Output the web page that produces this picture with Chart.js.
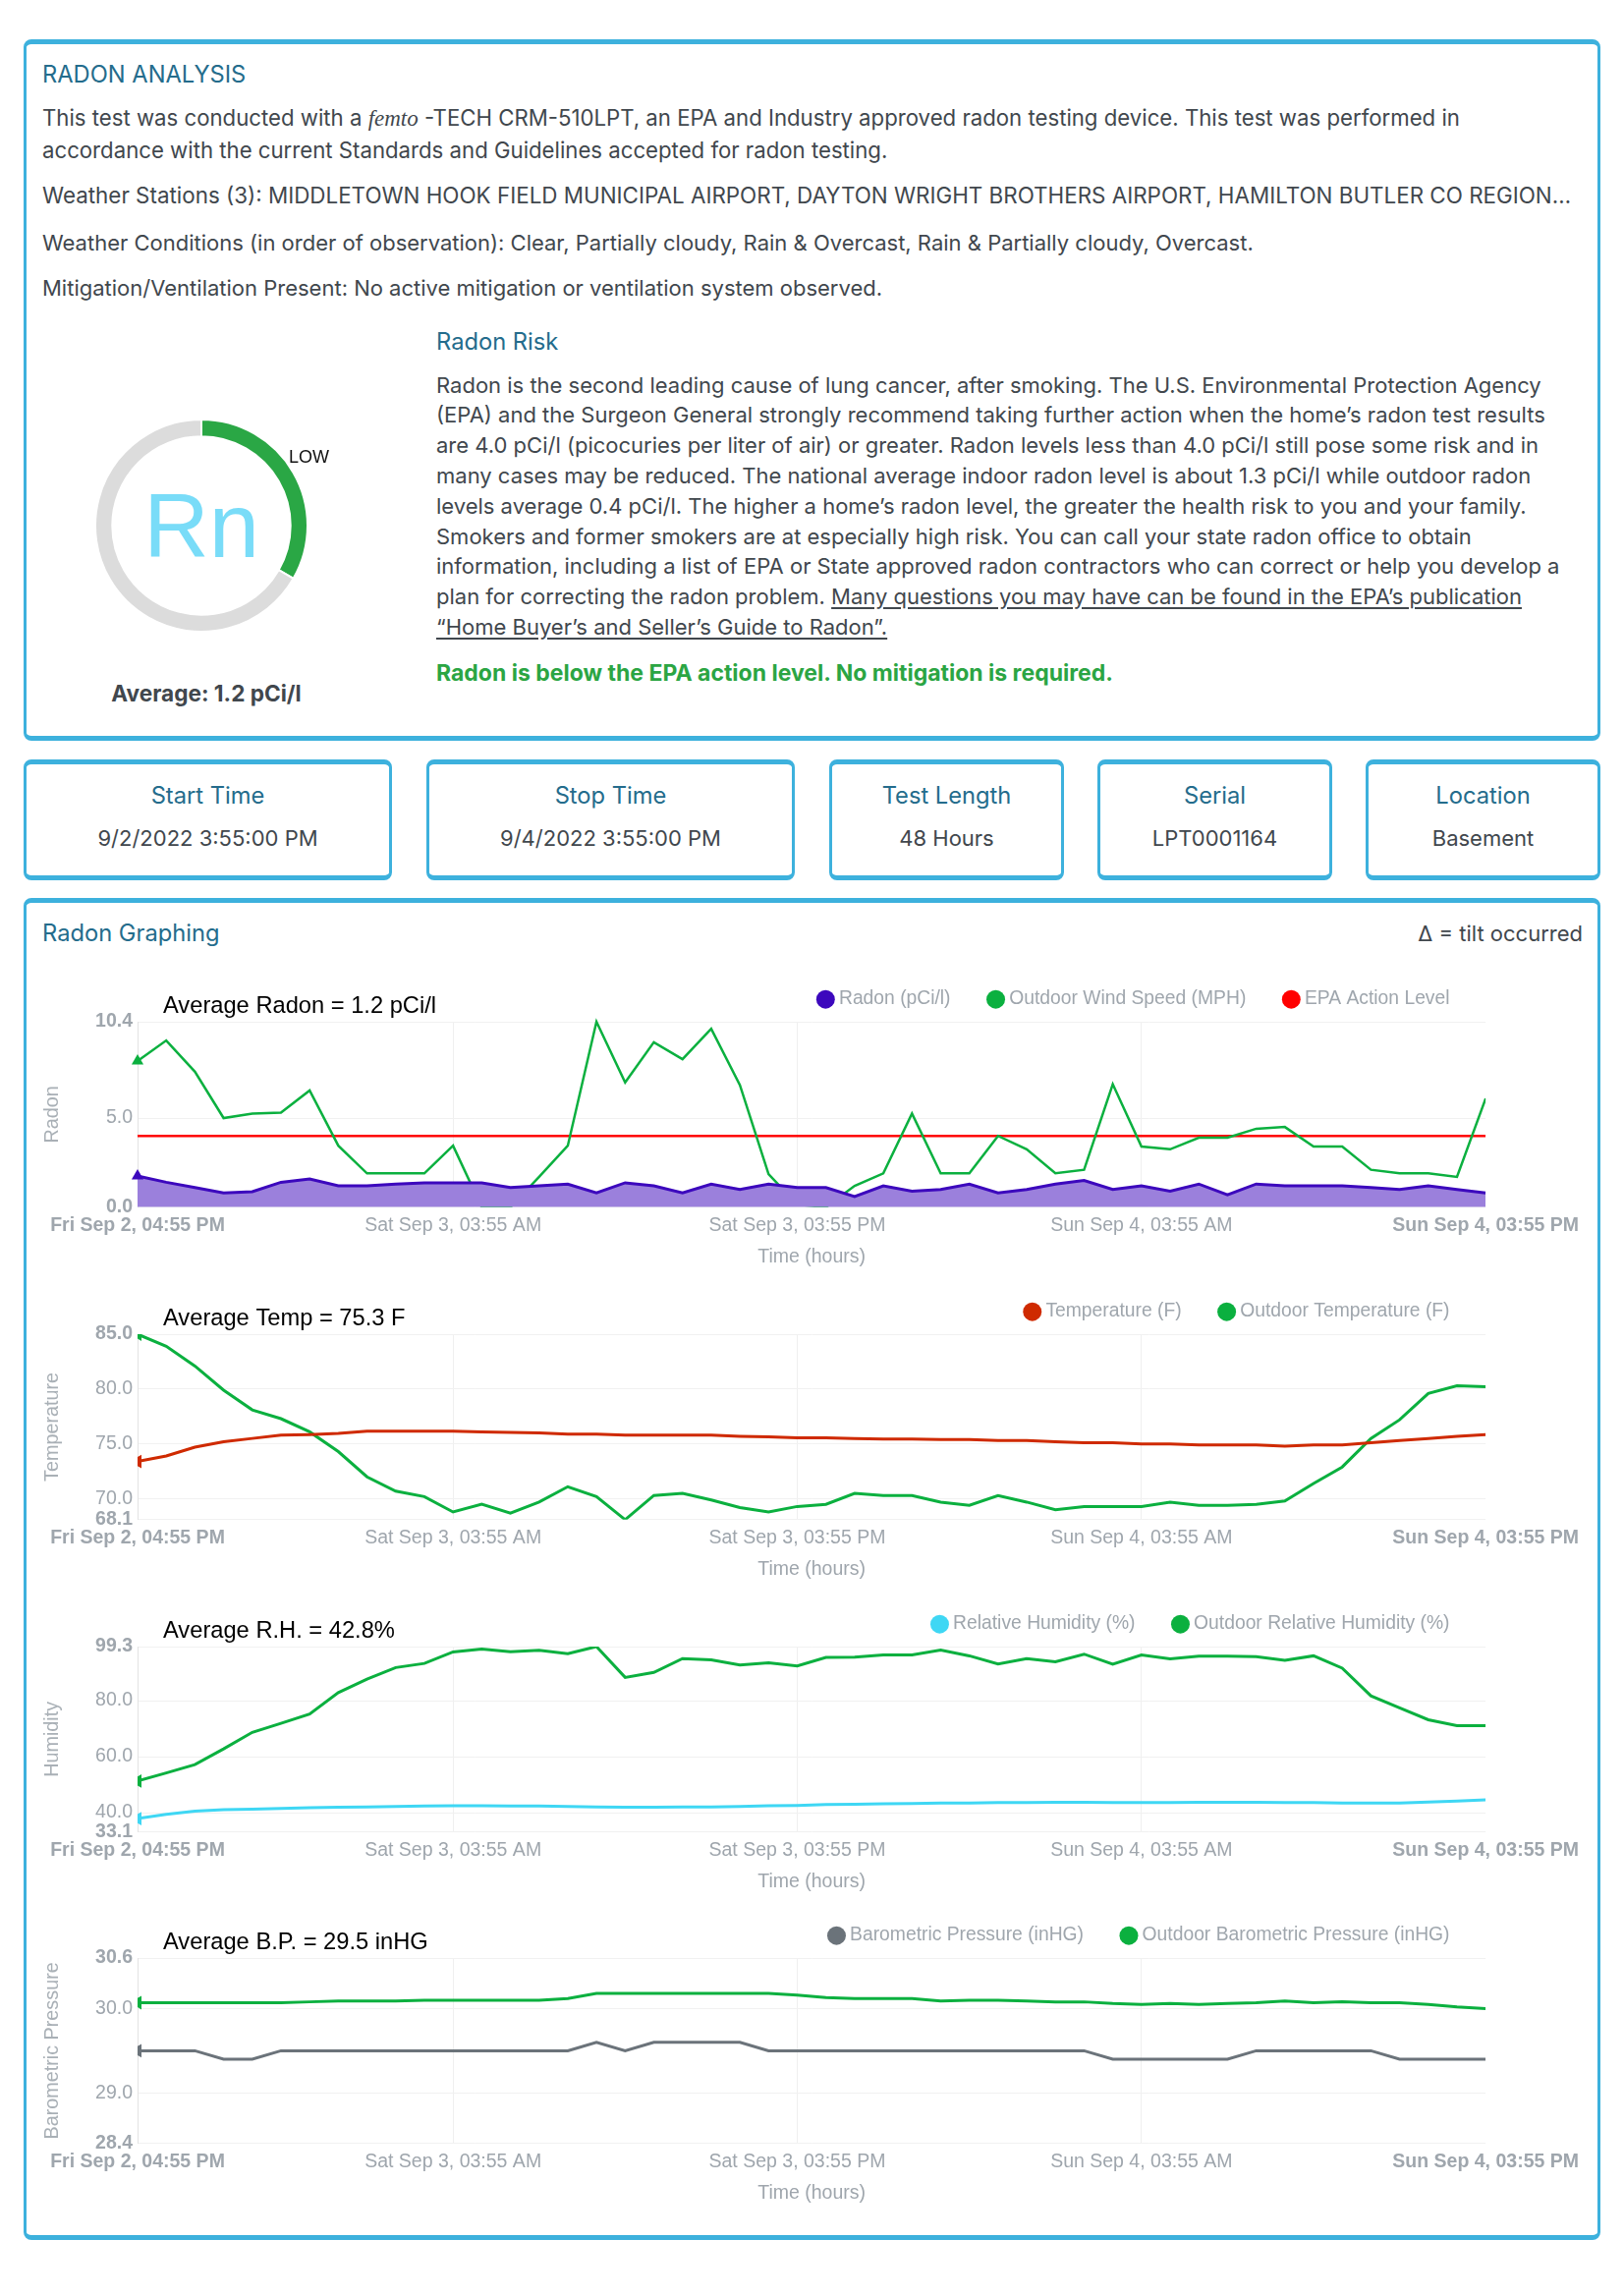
<!DOCTYPE html>
<html><head><meta charset="utf-8">
<script src="https://cdn.jsdelivr.net/npm/chart.js@4.4.1/dist/chart.umd.min.js"></script>
<style>
html,body{margin:0;padding:0;background:#fff;}
body{width:1653px;height:2336px;position:relative;font-family:Inter,'Open Sans',sans-serif;color:#41474d;overflow:hidden;}
.box{position:absolute;box-sizing:border-box;border:3px solid #3db1dd;border-top-width:5px;border-bottom-width:5px;border-radius:8px;}
.t{position:absolute;white-space:nowrap;font-size:22px;line-height:30px;}
.h{color:#246c8c;font-size:23.7px;}
.c{text-align:center;}
.cw{position:absolute;}
u{text-decoration:underline;text-underline-offset:3px;}
</style></head>
<body>
<!-- Box 1 -->
<div class="box" style="left:24px;top:40px;width:1605px;height:714px;"></div>
<div class="t h" style="left:43px;top:61px;">RADON ANALYSIS</div>
<div class="t" style="left:43px;top:105px;font-size:22.2px;">This test was conducted with a <i style="font-family:'Liberation Serif',serif;font-size:23px;">femto</i> -TECH CRM-510LPT, an EPA and Industry approved radon testing device. This test was performed in</div>
<div class="t" style="left:43px;top:138px;font-size:22.2px;">accordance with the current Standards and Guidelines accepted for radon testing.</div>
<div class="t" style="left:43px;top:184px;width:1563px;overflow:hidden;text-overflow:ellipsis;font-size:22.4px;">Weather Stations (3): MIDDLETOWN HOOK FIELD MUNICIPAL AIRPORT, DAYTON WRIGHT BROTHERS AIRPORT, HAMILTON BUTLER CO REGIONAL AIRPORT</div>
<div class="t" style="left:43px;top:232px;">Weather Conditions (in order of observation): Clear, Partially cloudy, Rain &amp; Overcast, Rain &amp; Partially cloudy, Overcast.</div>
<div class="t" style="left:43px;top:278px;">Mitigation/Ventilation Present: No active mitigation or ventilation system observed.</div>

<div class="cw" style="left:96px;top:426px;width:218px;height:218px;"><canvas id="gauge"></canvas></div>
<div class="t" style="left:85px;top:415px;width:240px;height:240px;line-height:240px;text-align:center;font-family:'Liberation Sans',Arial,sans-serif;font-size:92px;color:#79dcf8;">Rn</div>
<div class="t" style="left:294px;top:450px;font-family:'Liberation Sans',Arial,sans-serif;font-size:18px;color:#111;">LOW</div>
<div class="t c" style="left:60px;top:691px;width:300px;font-weight:700;font-size:22.6px;color:#41474d;">Average: 1.2 pCi/l</div>

<div class="t h" style="left:444px;top:333px;">Radon Risk</div>
<div class="t" style="left:444px;top:376.6px;line-height:30.8px;font-size:22px;">Radon is the second leading cause of lung cancer, after smoking. The U.S. Environmental Protection Agency<br>(EPA) and the Surgeon General strongly recommend taking further action when the home’s radon test results<br>are 4.0 pCi/l (picocuries per liter of air) or greater. Radon levels less than 4.0 pCi/l still pose some risk and in<br>many cases may be reduced. The national average indoor radon level is about 1.3 pCi/l while outdoor radon<br>levels average 0.4 pCi/l. The higher a home’s radon level, the greater the health risk to you and your family.<br>Smokers and former smokers are at especially high risk. You can call your state radon office to obtain<br>information, including a list of EPA or State approved radon contractors who can correct or help you develop a<br>plan for correcting the radon problem. <u>Many questions you may have can be found in the EPA’s publication</u><br><u>“Home Buyer’s and Seller’s Guide to Radon”.</u></div>
<div class="t" style="left:444px;top:670px;font-weight:700;font-size:23px;color:#2ba543;">Radon is below the EPA action level. No mitigation is required.</div>

<!-- Info boxes -->
<div class="box" style="left:24px;top:773px;width:375px;height:123px;"></div>
<div class="t h c" style="left:24px;top:795px;width:375px;">Start Time</div>
<div class="t c" style="left:24px;top:838px;width:375px;">9/2/2022 3:55:00 PM</div>
<div class="box" style="left:434px;top:773px;width:375px;height:123px;"></div>
<div class="t h c" style="left:434px;top:795px;width:375px;">Stop Time</div>
<div class="t c" style="left:434px;top:838px;width:375px;">9/4/2022 3:55:00 PM</div>
<div class="box" style="left:844px;top:773px;width:239px;height:123px;"></div>
<div class="t h c" style="left:844px;top:795px;width:239px;">Test Length</div>
<div class="t c" style="left:844px;top:838px;width:239px;">48 Hours</div>
<div class="box" style="left:1117px;top:773px;width:239px;height:123px;"></div>
<div class="t h c" style="left:1117px;top:795px;width:239px;">Serial</div>
<div class="t c" style="left:1117px;top:838px;width:239px;">LPT0001164</div>
<div class="box" style="left:1390px;top:773px;width:239px;height:123px;"></div>
<div class="t h c" style="left:1390px;top:795px;width:239px;">Location</div>
<div class="t c" style="left:1390px;top:838px;width:239px;">Basement</div>

<!-- Graph box -->
<div class="box" style="left:24px;top:914px;width:1605px;height:1366px;"></div>
<div class="t h" style="left:43px;top:935px;">Radon Graphing</div>
<div class="t" style="left:1211px;top:935px;width:400px;text-align:right;">Δ = tilt occurred</div>

<div class="cw" style="left:38px;top:982px;width:1576px;height:318px;"><canvas id="c1"></canvas></div>
<div class="cw" style="left:38px;top:1300px;width:1576px;height:318px;"><canvas id="c2"></canvas></div>
<div class="cw" style="left:38px;top:1618px;width:1576px;height:318px;"><canvas id="c3"></canvas></div>
<div class="cw" style="left:38px;top:1935px;width:1576px;height:318px;"><canvas id="c4"></canvas></div>

<script>
// ---- Data ----
const hours = [0,1,2,3,4,5,6,7,8,9,10,11,12,13,14,15,16,17,18,19,20,21,22,23,24,25,26,27,28,29,30,31,32,33,34,35,36,37,38,39,40,41,42,43,44,45,46,47];
const xTickHours = [0, 11, 23, 35, 47];
const xTickLabels = ['Fri Sep 2, 04:55 PM', 'Sat Sep 3, 03:55 AM', 'Sat Sep 3, 03:55 PM', 'Sun Sep 4, 03:55 AM', 'Sun Sep 4, 03:55 PM'];

const gaugeSegments = [33.3, 66.7];

const radon = [1.75,1.4,1.1,0.8,0.87,1.4,1.58,1.2,1.2,1.3,1.37,1.37,1.37,1.1,1.2,1.3,0.8,1.37,1.2,0.8,1.3,1.0,1.3,1.1,1.1,0.6,1.2,0.9,1.0,1.3,0.8,1.0,1.3,1.5,1.0,1.2,0.9,1.3,0.7,1.3,1.2,1.2,1.2,1.1,1.0,1.2,1.0,0.8];
const windSpeed = [8.2,9.35,7.6,5.0,5.25,5.3,6.55,3.45,1.9,1.9,1.9,3.45,0,0,1.7,3.45,10.4,7.0,9.25,8.3,10.0,6.85,1.85,0.15,0,1.2,1.9,5.25,1.9,1.9,4.0,3.25,1.9,2.1,6.9,3.4,3.25,3.9,3.9,4.4,4.5,3.4,3.4,2.1,1.9,1.9,1.7,6.1];
const epaLevel = [4,4,4,4,4,4,4,4,4,4,4,4,4,4,4,4,4,4,4,4,4,4,4,4,4,4,4,4,4,4,4,4,4,4,4,4,4,4,4,4,4,4,4,4,4,4,4,4];
const radonTicks = [0, 5, 10.4];

const temperature = [73.4,73.9,74.7,75.2,75.5,75.8,75.85,75.95,76.15,76.15,76.15,76.15,76.1,76.05,76.0,75.9,75.9,75.8,75.8,75.8,75.8,75.7,75.65,75.55,75.55,75.5,75.45,75.45,75.4,75.4,75.3,75.3,75.2,75.1,75.1,75.0,75.0,74.9,74.9,74.9,74.8,74.9,74.9,75.1,75.3,75.5,75.7,75.85];
const outdoorTemp = [85.0,83.9,82.1,79.9,78.1,77.3,76.1,74.3,72.0,70.7,70.2,68.8,69.5,68.7,69.7,71.1,70.2,68.1,70.3,70.5,69.9,69.2,68.8,69.3,69.5,70.5,70.3,70.3,69.7,69.4,70.3,69.7,69.0,69.3,69.3,69.3,69.7,69.4,69.4,69.5,69.8,71.4,72.9,75.5,77.2,79.6,80.3,80.2];
const tempTicks = [68.1, 70, 75, 80, 85];

const humidity = [37.9,39.4,40.6,41.1,41.3,41.5,41.8,42.0,42.1,42.2,42.4,42.5,42.5,42.4,42.4,42.2,42.1,42.0,42.0,42.1,42.1,42.2,42.5,42.6,42.9,43.0,43.2,43.3,43.5,43.5,43.6,43.6,43.7,43.7,43.6,43.6,43.6,43.7,43.7,43.7,43.6,43.6,43.5,43.5,43.5,43.8,44.2,44.6];
const outdoorHumidity = [51.3,54.2,57.2,62.8,68.7,71.9,75.2,82.9,87.7,91.8,93.3,97.4,98.4,97.5,98.0,96.8,99.3,88.3,90.1,95.0,94.6,92.7,93.5,92.4,95.4,95.5,96.3,96.3,98.1,96.0,93.1,95.0,93.9,96.6,93.0,96.3,94.9,95.9,95.9,95.7,94.4,96.0,91.6,81.7,77.4,73.2,71.1,71.1];
const humidityTicks = [33.1, 40, 60, 80, 99.3];

const pressure = [29.5,29.5,29.5,29.4,29.4,29.5,29.5,29.5,29.5,29.5,29.5,29.5,29.5,29.5,29.5,29.5,29.6,29.5,29.6,29.6,29.6,29.6,29.5,29.5,29.5,29.5,29.5,29.5,29.5,29.5,29.5,29.5,29.5,29.5,29.4,29.4,29.4,29.4,29.4,29.5,29.5,29.5,29.5,29.5,29.4,29.4,29.4,29.4];
const outdoorPressure = [30.07,30.07,30.07,30.07,30.07,30.07,30.08,30.09,30.09,30.09,30.1,30.1,30.1,30.1,30.1,30.12,30.18,30.18,30.18,30.18,30.18,30.18,30.18,30.16,30.13,30.12,30.12,30.12,30.09,30.1,30.1,30.09,30.08,30.08,30.06,30.05,30.06,30.05,30.06,30.07,30.09,30.07,30.08,30.07,30.07,30.05,30.02,30.0];
const pressureTicks = [28.4, 29, 30, 30.6];

// ---- Chart setup ----
Chart.defaults.font.family = "'Liberation Sans', Arial, Helvetica, sans-serif";
Chart.defaults.font.size = 19.5;
Chart.defaults.color = '#9fa6ad';
Chart.defaults.animation = false;

new Chart(document.getElementById('gauge'), {
  type: 'doughnut',
  data: { labels: ['Radon', 'Remaining'], datasets: [{ data: gaugeSegments, backgroundColor: ['#2aa745', '#dcdcdc'], borderColor: '#ffffff', borderWidth: 2 }] },
  options: { responsive: true, maintainAspectRatio: false, cutout: '84%', events: [], plugins: { legend: { display: false }, tooltip: { enabled: false } } }
});

const avgPlugin = {
  id: 'avgText',
  afterDraw(chart, args, opts) {
    const { ctx, chartArea } = chart;
    ctx.save();
    ctx.font = "23.7px 'Liberation Sans', Arial, sans-serif";
    ctx.fillStyle = '#000';
    ctx.textBaseline = 'alphabetic';
    ctx.fillText(opts.text, chartArea.left + 26, chartArea.top - 9);
    ctx.restore();
  }
};
const legendFit = {
  id: 'legendFit',
  afterInit(chart) {
    const legend = chart.legend;
    if (!legend) return;
    const orig = legend.fit;
    legend.fit = function () {
      orig.call(this);
      this.height = 74.5;
      if (this.lineWidths) this.lineWidths = this.lineWidths.map(w => w + 0.5);
    };
  }
};

function ds(label, values, color, extra) {
  return Object.assign({
    label,
    data: hours.map((h, i) => ({ x: h, y: values[i] })),
    borderColor: color,
    backgroundColor: color,
    borderWidth: 3,
    tension: 0,
    fill: false,
    pointStyle: 'triangle',
    pointRotation: -90,
    pointRadius: c => c.dataIndex === 0 ? 8 : 0,
    pointHoverRadius: 0,
    pointBackgroundColor: color,
    pointBorderWidth: 0,
    clip: 0
  }, extra || {});
}

function makeChart(id, datasets, yTicks, yTitle, avgText) {
  const nY = yTicks.length;
  const nX = xTickHours.length;
  return new Chart(document.getElementById(id), {
    type: 'line',
    data: { datasets },
    plugins: [avgPlugin, legendFit],
    options: {
      responsive: true, maintainAspectRatio: false, events: [],
      layout: { padding: { top: -16.5, right: 96, bottom: 3.6, left: 0 } },
      plugins: {
        tooltip: { enabled: false },
        avgText: { text: avgText },
        legend: {
          position: 'top', align: 'end',
          labels: {
            usePointStyle: true, pointStyle: 'circle', boxWidth: 8, boxHeight: 13.4, padding: 42,
            color: '#9fa6ad', font: { size: 19.3 },
            generateLabels: chart => Chart.defaults.plugins.legend.labels.generateLabels(chart).map(l => {
              const c = chart.data.datasets[l.datasetIndex].borderColor;
              return Object.assign(l, { fillStyle: c, strokeStyle: c, lineWidth: 0, pointStyle: 'circle', rotation: 0 });
            })
          }
        }
      },
      scales: {
        x: {
          type: 'linear', min: hours[0], max: hours[hours.length - 1],
          afterBuildTicks: s => { s.ticks = xTickHours.map(v => ({ value: v })); },
          ticks: {
            autoSkip: false, maxRotation: 0, padding: 7, color: '#9fa6ad',
            callback: (v, i) => xTickLabels[i],
            font: c => ({ size: 19.5, weight: (c.index === 0 || c.index === nX - 1) ? 'bold' : 'normal' })
          },
          grid: { drawTicks: false, color: c => (c.index === 0 || c.index === nX - 1) ? 'rgba(0,0,0,0)' : '#efefef' },
          border: { display: false },
          title: { display: true, text: 'Time (hours)', color: '#9fa6ad', font: { size: 19.5 }, padding: { top: 1.8, bottom: 5 } }
        },
        y: {
          min: yTicks[0], max: yTicks[nY - 1],
          afterBuildTicks: s => { s.ticks = yTicks.map(v => ({ value: v })); },
          afterFit: s => { s.width = 102; },
          ticks: {
            padding: 5, color: '#9fa6ad',
            callback: v => Number(v).toFixed(1),
            font: c => ({ size: 19.5, weight: (c.index === 0 || c.index === nY - 1) ? 'bold' : 'normal' })
          },
          grid: { drawTicks: false, color: '#f1f1f1' },
          border: { color: '#e3e3e3' },
          title: { display: true, text: yTitle, color: '#a9b0b6', font: { size: 19.8 }, padding: { top: 4, bottom: 0 } }
        }
      }
    }
  });
}

makeChart('c1', [
  ds('Radon (pCi/l)', radon, '#3c08bd', { backgroundColor: '#9b80dc', fill: 'origin', pointRotation: 0, pointRadius: c => c.dataIndex === 0 ? 7 : 0, pointBackgroundColor: '#3c08bd', clip: { left: 10, top: 10, right: 0, bottom: 0 } }),
  ds('Outdoor Wind Speed (MPH)', windSpeed, '#0bb03f', { borderWidth: 2.5, pointRotation: 0, pointRadius: c => c.dataIndex === 0 ? 7 : 0, clip: { left: 10, top: 10, right: 0, bottom: 0 } }),
  ds('EPA Action Level', epaLevel, '#ff0000', { borderWidth: 2.5, pointRadius: 0 })
], radonTicks, 'Radon', 'Average Radon = 1.2 pCi/l');

makeChart('c2', [
  ds('Temperature (F)', temperature, '#cf2a00'),
  ds('Outdoor Temperature (F)', outdoorTemp, '#0bb03f')
], tempTicks, 'Temperature', 'Average Temp = 75.3 F');

makeChart('c3', [
  ds('Relative Humidity (%)', humidity, '#3fd7f4'),
  ds('Outdoor Relative Humidity (%)', outdoorHumidity, '#0bb03f')
], humidityTicks, 'Humidity', 'Average R.H. = 42.8%');

makeChart('c4', [
  ds('Barometric Pressure (inHG)', pressure, '#6b737a'),
  ds('Outdoor Barometric Pressure (inHG)', outdoorPressure, '#0bb03f')
], pressureTicks, 'Barometric Pressure', 'Average B.P. = 29.5 inHG');
</script>
</body></html>
